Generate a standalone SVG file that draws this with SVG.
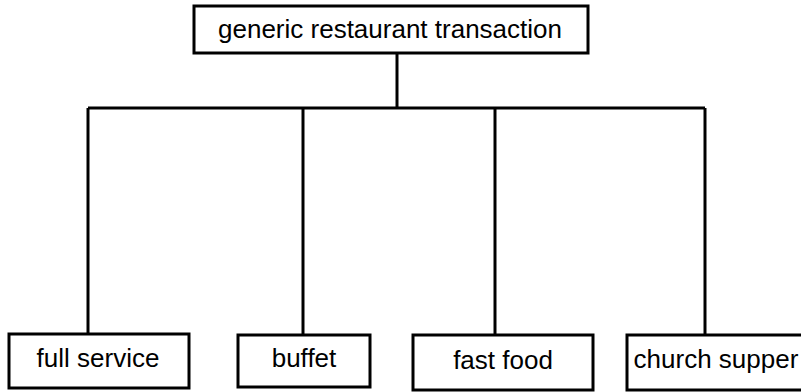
<svg xmlns="http://www.w3.org/2000/svg" width="801" height="392" viewBox="0 0 801 392">
<style>
.box{fill:#fff;stroke:#000;stroke-width:3}
.lbl{font-family:"Liberation Sans",Arial,sans-serif;font-size:26px;fill:#000;text-anchor:middle}
.ln{stroke:#000;stroke-width:3;fill:none}
</style>
<rect width="801" height="392" fill="#fff"/>
<g id="connectors">
<path class="ln" d="M397,53V108"/>
<path class="ln" d="M88,108H705"/>
<path class="ln" d="M88,108V333"/>
<path class="ln" d="M303,108V335"/>
<path class="ln" d="M495,108V335"/>
<path class="ln" d="M705,108V335"/>
</g>
<g id="root"><rect class="box" x="194" y="6" width="394" height="47"/><text class="lbl" x="390" y="38">generic restaurant transaction</text></g>
<g id="full-service"><rect class="box" x="9" y="334" width="180" height="54"/><text class="lbl" x="98" y="367">full service</text></g>
<g id="buffet"><rect class="box" x="238" y="335" width="132" height="52"/><text class="lbl" x="304" y="367">buffet</text></g>
<g id="fast-food"><rect class="box" x="413" y="335" width="180" height="55"/><text class="lbl" x="503" y="369">fast food</text></g>
<g id="church-supper"><rect class="box" x="627" y="335" width="180" height="55"/><text class="lbl" x="716" y="368">church supper</text></g>
</svg>
